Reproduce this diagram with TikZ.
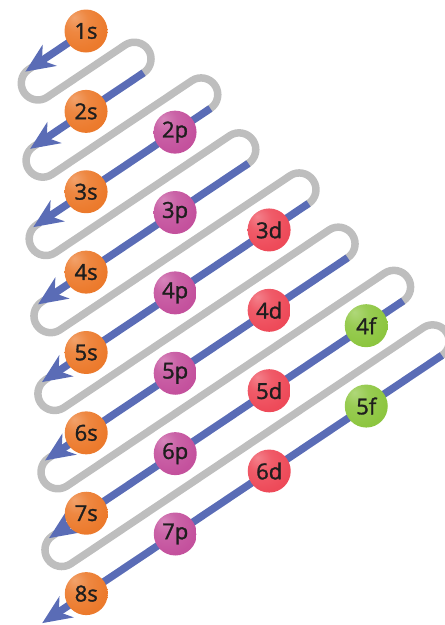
\documentclass[tikz,border=0pt]{standalone}
\usepackage{fontspec}
\setmainfont{Open Sans}
\newfontfamily\orbfont[FakeBold=1.4]{Open Sans}
\usetikzlibrary{arrows.meta}

\definecolor{orbS}{HTML}{EC7A2C}
\definecolor{orbP}{HTML}{C4519D}
\definecolor{orbD}{HTML}{EE4A59}
\definecolor{orbF}{HTML}{8DC640}
\definecolor{lineblue}{HTML}{5A6CB6}
\definecolor{loopgray}{HTML}{BEBEBE}
\definecolor{inkdark}{HTML}{1E1E1E}
\colorlet{orbbase}{orbS}

% soft ball look, light spot up left
\pgfdeclareradialshading[orbbase]{orbshade}{\pgfpoint{-14bp}{16bp}}{%
  color(0bp)=(orbbase!70!white); color(14bp)=(orbbase!90!white);
  color(32bp)=(orbbase); color(72bp)=(orbbase!92!black)}

\begin{document}
\begin{tikzpicture}[x=1pt, y=-1pt,
  orbital/.style={circle, minimum size=43pt, inner sep=0pt, shading=orbshade,
    text=inkdark, font=\orbfont\fontsize{22}{24}\selectfont},
  s orb/.style={orbital, /utils/exec={\colorlet{orbbase}{orbS}}},
  p orb/.style={orbital, /utils/exec={\colorlet{orbbase}{orbP}}},
  d orb/.style={orbital, /utils/exec={\colorlet{orbbase}{orbD}}},
  f orb/.style={orbital, /utils/exec={\colorlet{orbbase}{orbF}}},
  fill order/.style={draw=lineblue, line width=7.5pt,
    -{Stealth[length=29pt, width=25pt, inset=9pt]}},
  loop line/.style={draw=loopgray, line width=7.5pt, line join=round,
    rounded corners=16.7pt}]
  \useasboundingbox (0,0) rectangle (445,625);

  \begin{scope}[shift={(86,31)}, rotate=33.82]
    % ends of the filling lines
    \coordinate (top1) at (0,0);       \coordinate (tip1) at (-73,0);
    \coordinate (top2) at (24.6,66.8); \coordinate (tip2) at (-112,66.8);
    \coordinate (top3) at (60.2,133.6); \coordinate (tip3) at (-153,133.6);
    \coordinate (top4) at (61.2,200.4); \coordinate (tip4) at (-192,200.4);
    \coordinate (top5) at (88.9,267.2); \coordinate (tip5) at (-232,267.2);
    \coordinate (top6) at (91.2,334);   \coordinate (tip6) at (-273,334);
    \coordinate (top7) at (113.3,400.8); \coordinate (tip7) at (-313,400.8);
    \coordinate (top8) at (115.1,467.6); \coordinate (tip8) at (-366,467.6);

    % grey turns between the lines
    \draw[loop line] (-65,0) -- (-85.7,0) -- (-85.7,33.4) -- (41.3,33.4) -- (41.3,66.8) -- (20,66.8);
    \draw[loop line] (-104,66.8) -- (-124.7,66.8) -- (-124.7,100.2) -- (76.9,100.2) -- (76.9,133.6) -- (55,133.6);
    \draw[loop line] (-145,133.6) -- (-165.7,133.6) -- (-165.7,167) -- (77.9,167) -- (77.9,200.4) -- (56,200.4);
    \draw[loop line] (-184,200.4) -- (-204.7,200.4) -- (-204.7,233.8) -- (105.6,233.8) -- (105.6,267.2) -- (84,267.2);
    \draw[loop line] (-224,267.2) -- (-244.7,267.2) -- (-244.7,300.6) -- (107.9,300.6) -- (107.9,334) -- (86,334);
    \draw[loop line] (-265,334) -- (-285.7,334) -- (-285.7,367.4) -- (130,367.4) -- (130,400.8) -- (108,400.8);
    \draw[loop line] (-305,400.8) -- (-325.7,400.8) -- (-325.7,434.2) -- (131.8,434.2) -- (131.8,467.6) -- (110,467.6);

    \draw[fill order] (top1) -- (tip1);
    \draw[fill order] (top2) -- (tip2);
    \draw[fill order] (top3) -- (tip3);
    \draw[fill order] (top4) -- (tip4);
    \draw[fill order] (top5) -- (tip5);
    \draw[fill order] (top6) -- (tip6);
    \draw[fill order] (top7) -- (tip7);
    \draw[fill order] (top8) -- (tip8);

    % s
    \node[s orb] (s1) at (0,0) {1s};
    \node[s orb] (s2) at (-44.7,66.8) {2s};
    \node[s orb] (s3) at (-89.4,133.6) {3s};
    \node[s orb] (s4) at (-134.1,200.4) {4s};
    \node[s orb] (s5) at (-178.8,267.2) {5s};
    \node[s orb] (s6) at (-223.5,334) {6s};
    \node[s orb] (s7) at (-268.2,400.8) {7s};
    \node[s orb] (s8) at (-312.9,467.6) {8s};
    % p
    \node[p orb] (p2) at (17.7,133.6) {2p};
    \node[p orb] (p3) at (-27,200.4) {3p};
    \node[p orb] (p4) at (-71.7,267.2) {4p};
    \node[p orb] (p5) at (-116.4,334) {5p};
    \node[p orb] (p6) at (-161.1,400.8) {6p};
    \node[p orb] (p7) at (-205.8,467.6) {7p};
    % d
    \node[d orb] (d3) at (41.4,267.2) {3d};
    \node[d orb] (d4) at (-3.3,334) {4d};
    \node[d orb] (d5) at (-48,400.8) {5d};
    \node[d orb] (d6) at (-92.7,467.6) {6d};
    % f
    \node[f orb] (f4) at (68.8,400.8) {4f};
    \node[f orb] (f5) at (24.1,467.6) {5f};
  \end{scope}
\end{tikzpicture}
\end{document}
